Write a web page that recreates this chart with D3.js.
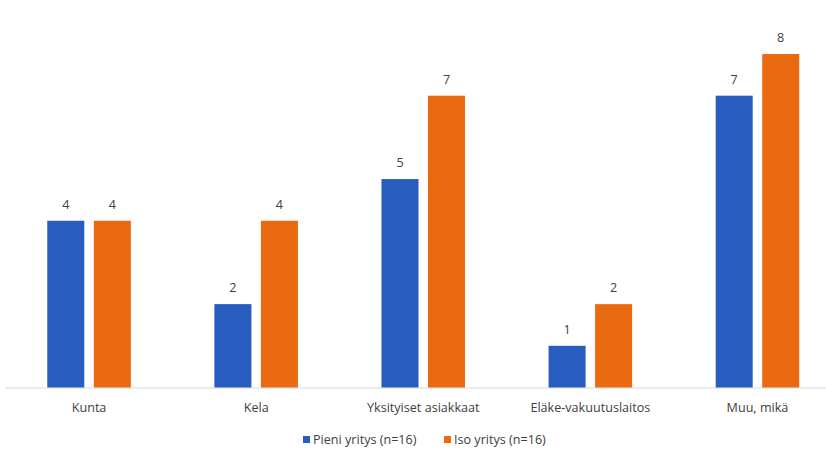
<!DOCTYPE html>
<html><head><meta charset="utf-8">
<script src="https://cdn.jsdelivr.net/npm/d3@7"></script>
<style>body{margin:0;background:#fff;}svg{display:block;font-family:"Open Sans",sans-serif;}</style>
</head><body>
<svg id="chart" width="826" height="456"></svg>
<script>
const categories = ["Kunta", "Kela", "Yksityiset asiakkaat", "Eläke-vakuutuslaitos", "Muu, mikä"];
const seriesNames = ["Pieni yritys (n=16)", "Iso yritys (n=16)"];
const pieni = [4, 2, 5, 1, 7];
const iso = [4, 4, 7, 2, 8];
const colors = ["#285CBF", "#EA6A12"];

const svg = d3.select("#chart");
const x0 = d3.scaleBand().domain(categories).range([5.5, 841]).paddingInner(0).paddingOuter(0);
const bw = x0.bandwidth();
const x1 = d3.scaleBand().domain(seriesNames).range([bw * 0.25, bw * 0.75]).paddingInner(0.204).paddingOuter(0);
const y = d3.scaleLinear().domain([0, 8]).range([387.5, 54]);
const values = [pieni, iso];
const fs = 12.6;

// axis line
svg.append("line").attr("x1", 5).attr("x2", 826).attr("y1", y(0) + 0.5).attr("y2", y(0) + 0.5)
  .attr("stroke", "#d9d9d9").attr("stroke-width", 1);

seriesNames.forEach((s, si) => {
  const g = svg.append("g");
  g.selectAll("rect").data(categories).enter().append("rect")
    .attr("x", c => x0(c) + x1(s))
    .attr("y", (c, i) => y(values[si][i]))
    .attr("width", x1.bandwidth())
    .attr("height", (c, i) => y(0) - y(values[si][i]))
    .attr("fill", colors[si]);
  g.selectAll("text").data(categories).enter().append("text")
    .attr("x", c => x0(c) + x1(s) + x1.bandwidth() / 2)
    .attr("y", (c, i) => y(values[si][i]) - 12)
    .attr("text-anchor", "middle")
    .attr("font-size", fs).attr("fill", "#404040")
    .text((c, i) => values[si][i]);
});

// category labels
const xAxis = d3.axisBottom(x0).tickSize(0).tickPadding(0);
const ax = svg.append("g").attr("transform", `translate(0,${y(0)})`).call(xAxis);
ax.select(".domain").remove();
ax.selectAll("text").attr("dy", null).attr("y", 24).attr("font-size", fs)
  .attr("fill", "#404040").attr("font-family", "'Open Sans',sans-serif");

// legend
const legX = [303, 444];
seriesNames.forEach((s, si) => {
  svg.append("rect").attr("x", legX[si]).attr("y", 436).attr("width", 7).attr("height", 7).attr("fill", colors[si]);
  svg.append("text").attr("x", legX[si] + 10).attr("y", 444).attr("font-size", fs)
    .attr("fill", "#404040").text(s);
});
</script>
</body></html>
